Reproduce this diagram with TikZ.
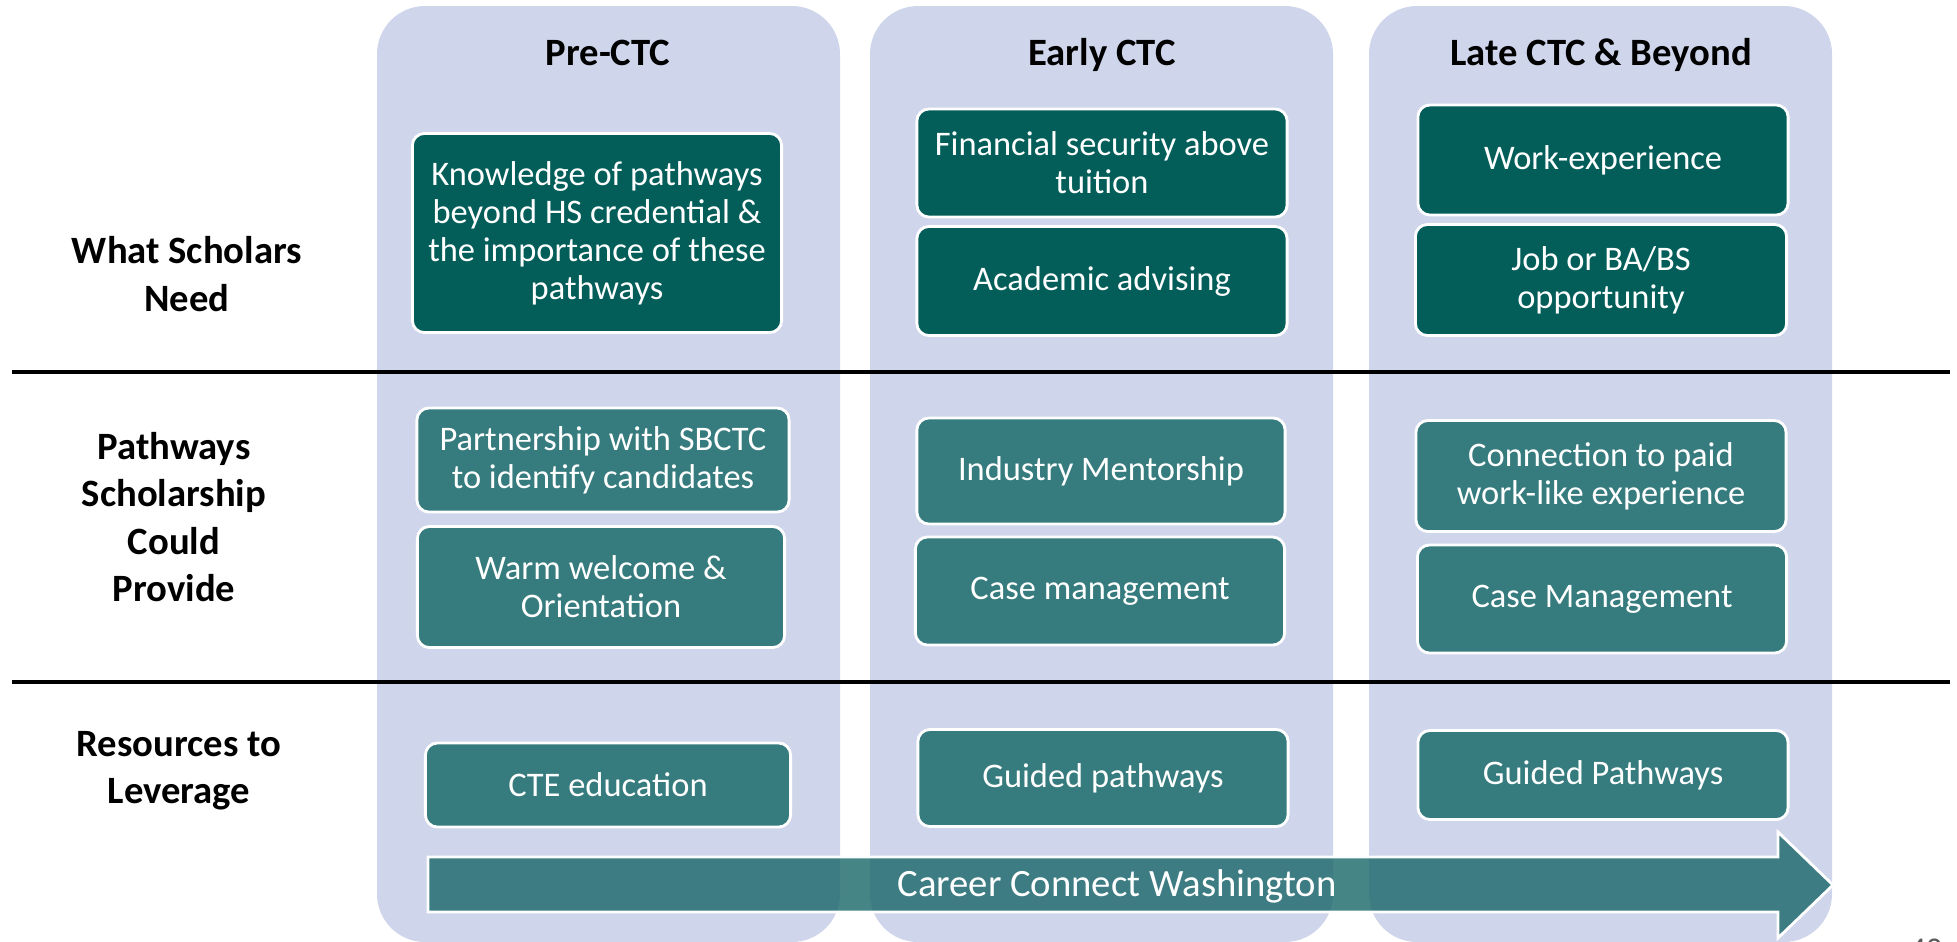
\documentclass[tikz,border=0pt]{standalone}
\usepackage{fontspec}
\setmainfont{Carlito}
\definecolor{colbg}{HTML}{CFD5EA}
\definecolor{needteal}{HTML}{035E5A}
\definecolor{provteal}{HTML}{367B7D}
\definecolor{arrowteal}{HTML}{186668}
\definecolor{pagegray}{HTML}{595959}
\begin{document}
\begin{tikzpicture}[x=0.01cm, y=-0.01cm,
  column/.style={fill=colbg, rounded corners=0.48cm},
  head/.style={font=\fontsize{11}{13.4}\selectfont\bfseries, anchor=base},
  rowlabel/.style={font=\fontsize{11}{13.4}\selectfont\bfseries, align=center},
  needbox/.style={fill=needteal, draw=white, line width=0.8pt, rounded corners=0.12cm,
    text=white, align=center, inner sep=0pt, font=\fontsize{9.8}{10.8}\selectfont},
  provbox/.style={needbox, fill=provteal}]
  \useasboundingbox (0,0) rectangle (1957,941);
  \foreach \xa/\xb in {377/840, 870/1333, 1369/1832}
    \fill[column] (\xa,6) rectangle (\xb,942);
  \foreach \y in {372, 682}
    \draw[line width=0.04cm] (12,\y) -- (1950,\y);

  \node[head] (prectc) at (608,65) {Pre-CTC};
  \node[head] (earlyctc) at (1102,65) {Early CTC};
  \node[head] (latectc) at (1601,65) {Late CTC \& Beyond};

  \node[rowlabel] (needlabel) at (187,274) {What Scholars\\Need};
  \node[rowlabel] (providelabel) at (174,517) {Pathways\\Scholarship\\Could\\Provide};
  \node[rowlabel] (resourcelabel) at (179,771) {Resources to\\Leverage};

  \node[needbox, minimum width=3.69cm, minimum height=1.99cm] (knowledge) at (597,233)
    {Knowledge of pathways\\beyond HS credential \&\\the importance of these\\pathways};
  \node[needbox, minimum width=3.70cm, minimum height=1.08cm] (financial) at (1102,163)
    {Financial security above\\tuition};
  \node[needbox, minimum width=3.70cm, minimum height=1.09cm] (advising) at (1102,281)
    {Academic advising};
  \node[needbox, minimum width=3.70cm, minimum height=1.10cm] (workexp) at (1603,160)
    {Work-experience};
  \node[needbox, minimum width=3.71cm, minimum height=1.11cm] (jobba) at (1601,280)
    {Job or BA/BS\\opportunity};

  \node[provbox, minimum width=3.72cm, minimum height=1.04cm] (sbctc) at (603,460)
    {Partnership with SBCTC\\to identify candidates};
  \node[provbox, minimum width=3.67cm, minimum height=1.21cm] (welcome) at (601,587)
    {Warm welcome \&\\Orientation};
  \node[provbox, minimum width=3.68cm, minimum height=1.06cm] (mentorship) at (1101,471)
    {Industry Mentorship};
  \node[provbox, minimum width=3.69cm, minimum height=1.08cm] (casemgmt) at (1100,591)
    {Case management};
  \node[provbox, minimum width=3.70cm, minimum height=1.11cm] (paidwork) at (1601,476)
    {Connection to paid\\work-like experience};
  \node[provbox, minimum width=3.69cm, minimum height=1.08cm] (casemgmtlate) at (1602,599)
    {Case Management};

  \node[provbox, minimum width=3.65cm, minimum height=0.84cm] (cte) at (608,785)
    {CTE education};
  \node[provbox, minimum width=3.70cm, minimum height=0.97cm] (guided) at (1103,778)
    {Guided pathways};
  \node[provbox, minimum width=3.70cm, minimum height=0.89cm] (guidedlate) at (1603,775)
    {Guided Pathways};

  \draw[fill=arrowteal, fill opacity=0.8, draw=white, line width=0.8pt]
    (428,857) -- (1778,857) -- (1778,832) -- (1833,885) -- (1778,938)
    -- (1778,912) -- (428,912) -- cycle;
  \node[text=white, font=\fontsize{11}{13.4}\selectfont] (ccw) at (1117,886)
    {Career Connect Washington};

  \node[anchor=north, text=pagegray, font=\fontsize{9}{10}\selectfont] (pagenum) at (1926,927) {42};
\end{tikzpicture}
\end{document}
